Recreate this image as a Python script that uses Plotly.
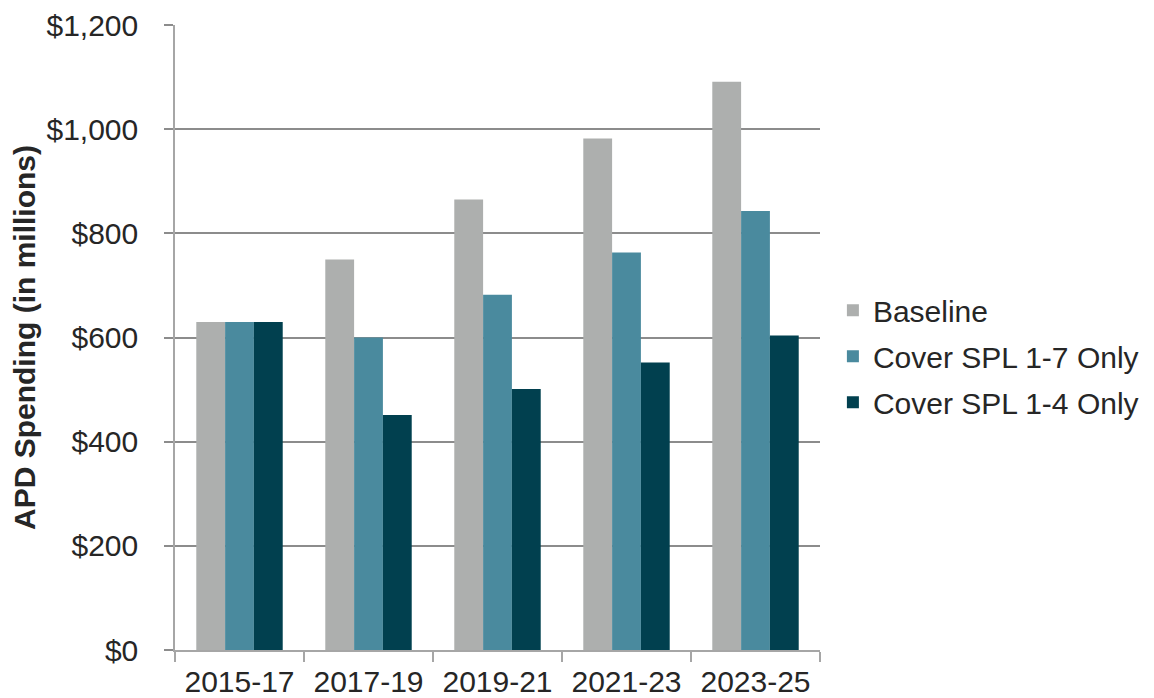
import plotly.graph_objects as go

categories = ["2015-17", "2017-19", "2019-21", "2021-23", "2023-25"]
baseline = [630, 750, 865, 982, 1091]
cover_1_7 = [630, 600, 682, 763, 843]
cover_1_4 = [630, 451, 501, 552, 604]
series_names = ["Baseline", "Cover SPL 1-7 Only", "Cover SPL 1-4 Only"]
colors = ["#ADAFAE", "#4A8A9E", "#01404F"]
y_ticks = [0, 200, 400, 600, 800, 1000, 1200]
y_tick_labels = ["$0", "$200", "$400", "$600", "$800", "$1,000", "$1,200"]

font_family = "Liberation Sans, Arial, sans-serif"

fig = go.Figure()
for name, vals, col in zip(series_names, [baseline, cover_1_7, cover_1_4], colors):
    fig.add_trace(go.Bar(
        x=categories, y=vals, name=name, legendgroup=name,
        marker=dict(color=col, line=dict(width=0)),
    ))

fig.update_layout(
    width=1154, height=698,
    margin=dict(l=167, r=342, t=17, b=56, autoexpand=False),
    paper_bgcolor="white", plot_bgcolor="white",
    barmode="group", bargap=0.33, bargroupgap=0,
    font=dict(family=font_family, color="#262626", size=30),
    legend=dict(
        x=1.02, xanchor="left", y=0.47, yanchor="middle",
        font=dict(size=30, color="#262626"),
        traceorder="grouped", tracegroupgap=4,
        itemsizing="constant",
    ),
    showlegend=True,
)
fig.update_xaxes(
    type="category", automargin=False,
    showline=True, linecolor="#A6A6A6", linewidth=1.5,
    ticks="outside", tickson="boundaries", ticklen=10, tickcolor="#A6A6A6",
    tickwidth=1.5, ticklabelstandoff=4,
    tickfont=dict(size=30, color="#262626"),
    showgrid=False,
)
fig.update_yaxes(
    range=[0, 1200], tickvals=y_ticks, ticktext=y_tick_labels,
    automargin=False,
    showline=True, linecolor="#A6A6A6", linewidth=1.5,
    ticks="outside", ticklen=9, tickcolor="#8C8C8C", tickwidth=1.5,
    ticklabelstandoff=20,
    showgrid=True, gridcolor="#8C8C8C", gridwidth=1.5,
    zeroline=False,
    tickfont=dict(size=30, color="#262626"),
    title=dict(text="<b>APD Spending (in millions)</b>", font=dict(size=30, color="#262626"), standoff=10),
)

fig.write_html("out.html")
